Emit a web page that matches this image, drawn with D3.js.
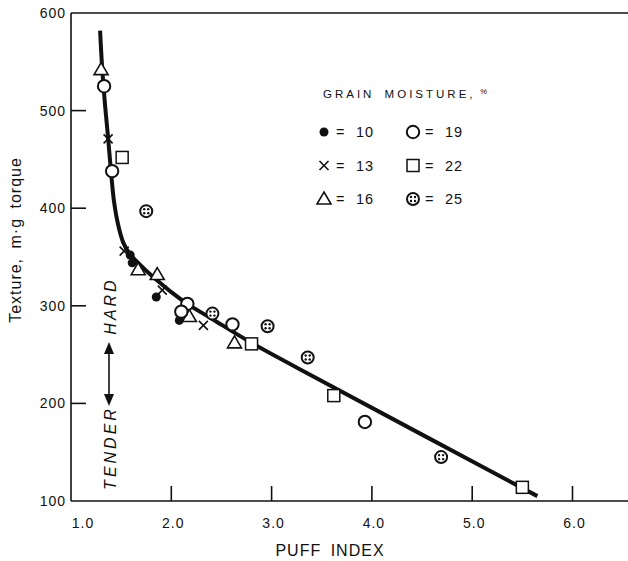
<!DOCTYPE html>
<html lang="en">

<head>
    <meta charset="UTF-8">
    <title>Texture vs Puff Index</title>
    <script src="https://d3js.org/d3.v7.min.js"></script>
    <style>
        body {
            margin: 0;
            background: #fff;
            font-family: "Liberation Sans", Arial, sans-serif;
        }

        text {
            fill: #111;
        }

        .tick_label {
            font-size: 14px;
            letter-spacing: 1px;
        }

        .axis_title {
            font-size: 16px;
            letter-spacing: 1px;
            word-spacing: 4px;
        }

        .legend_text {
            font-size: 14.5px;
            letter-spacing: 1px;
        }

        .zone {
            font-size: 16px;
            font-style: italic;
            letter-spacing: 3px;
        }
    </style>
</head>

<body>
    <svg id="chart" width="628" height="561"></svg>
    <script>
        // axis ticks
        let xTicks = [1.0, 2.0, 3.0, 4.0, 5.0, 6.0]
        let yTicks = [100, 200, 300, 400, 500, 600]

        // grain moisture levels (%) and the symbol used for each
        let moisture = [10, 13, 16, 19, 22, 25]
        let symbols = ["dot", "cross", "triangle", "circle", "square", "otimes"]

        // observations: [puff index, texture (m-g torque)]
        let m10 = [[1.59, 352], [1.61, 344], [1.85, 309], [2.08, 285]]
        let m13 = [[1.37, 471], [1.53, 356], [1.91, 316], [2.32, 280]]
        let m16 = [[1.30, 542], [1.67, 337], [1.86, 332], [2.18, 289], [2.63, 262]]
        let m19 = [[1.33, 525], [1.41, 438], [2.16, 302], [2.10, 294], [2.61, 281], [3.93, 181]]
        let m22 = [[1.51, 452], [2.80, 261], [3.62, 208], [5.50, 114]]
        let m25 = [[1.75, 397], [2.41, 292], [2.96, 279], [3.36, 247], [4.69, 145]]
        let seriesData = [m10, m13, m16, m19, m22, m25]

        // fitted curve drawn through the data
        let fitCurve = [[1.29, 582], [1.31, 545], [1.34, 505], [1.37, 472], [1.40, 436], [1.43, 406],
        [1.47, 383], [1.52, 365], [1.58, 354], [1.65, 346], [1.75, 336], [1.86, 326], [2.00, 314],
        [2.16, 302], [2.40, 287], [2.80, 262], [3.50, 223], [4.50, 168], [5.65, 105]]

        let width = 628
        let height = 561
        let svg = d3.select("#chart")

        let x = d3.scaleLinear().domain([1, 6]).range([71, 572.5])
        let y = d3.scaleLinear().domain([100, 600]).range([501, 13])

        let axes = svg.append("g").attr("stroke", "#111").attr("stroke-width", 1.6)
        // frame: left axis, bottom axis, top line
        axes.append("line").attr("x1", x(1)).attr("x2", x(1)).attr("y1", y(600)).attr("y2", y(100))
        axes.append("line").attr("x1", x(1)).attr("x2", width).attr("y1", y(100)).attr("y2", y(100))
        axes.append("line").attr("x1", x(1)).attr("x2", width).attr("y1", y(600)).attr("y2", y(600))

        // inward ticks
        axes.selectAll(".xt").data(xTicks.slice(1)).enter().append("line")
            .attr("x1", d => x(d)).attr("x2", d => x(d))
            .attr("y1", y(100)).attr("y2", y(100) - 15)
        axes.selectAll(".yt").data(yTicks.slice(1, -1)).enter().append("line")
            .attr("x1", x(1)).attr("x2", x(1) + 15)
            .attr("y1", d => y(d)).attr("y2", d => y(d))

        svg.selectAll(".xl").data(xTicks).enter().append("text")
            .attr("class", "tick_label")
            .attr("x", d => x(d) + (d == 1 ? 12 : 2))
            .attr("y", 528)
            .attr("text-anchor", "middle")
            .text(d => d3.format(".1f")(d))
        svg.selectAll(".yl").data(yTicks).enter().append("text")
            .attr("class", "tick_label")
            .attr("x", x(1) - 5)
            .attr("y", d => y(d) + 5)
            .attr("text-anchor", "end")
            .text(d => d)

        svg.append("text").attr("class", "axis_title")
            .attr("x", 330).attr("y", 556)
            .attr("text-anchor", "middle")
            .text("PUFF INDEX")
        svg.append("text").attr("class", "axis_title")
            .attr("transform", "translate(21,240) rotate(-90)")
            .attr("text-anchor", "middle")
            .text("Texture, m·g torque")

        // HARD / TENDER with double arrow
        svg.append("text").attr("class", "zone")
            .attr("transform", "translate(116,306) rotate(-90)")
            .attr("text-anchor", "middle").text("HARD")
        svg.append("text").attr("class", "zone")
            .attr("transform", "translate(116,448) rotate(-90)")
            .attr("text-anchor", "middle").text("TENDER")
        svg.append("line").attr("x1", 109).attr("x2", 109).attr("y1", 350).attr("y2", 398)
            .attr("stroke", "#111").attr("stroke-width", 1.6)
        svg.append("path").attr("d", "M109,342 L104,354 L114,354 Z").attr("fill", "#111")
        svg.append("path").attr("d", "M109,406 L104,394 L114,394 Z").attr("fill", "#111")

        // fitted curve
        let line = d3.line().x(d => x(d[0])).y(d => y(d[1])).curve(d3.curveCatmullRom.alpha(0.5))
        svg.append("path").attr("d", line(fitCurve))
            .attr("fill", "none").attr("stroke", "#111").attr("stroke-width", 4)

        function drawSymbol(g, type) {
            if (type == "dot") {
                g.append("circle").attr("r", 4.5).attr("fill", "#111")
            } else if (type == "cross") {
                g.append("path").attr("d", "M-4.5,-4.5L4.5,4.5M-4.5,4.5L4.5,-4.5")
                    .attr("stroke", "#111").attr("stroke-width", 1.6)
            } else if (type == "triangle") {
                g.append("path").attr("d", "M0,-7L7,5L-7,5Z")
                    .attr("fill", "#fff").attr("stroke", "#111").attr("stroke-width", 1.6)
            } else if (type == "circle") {
                g.append("circle").attr("r", 6.2)
                    .attr("fill", "#fff").attr("stroke", "#111").attr("stroke-width", 2)
            } else if (type == "square") {
                g.append("rect").attr("x", -6).attr("y", -6).attr("width", 12).attr("height", 12)
                    .attr("fill", "#fff").attr("stroke", "#111").attr("stroke-width", 1.5)
            } else if (type == "otimes") {
                g.append("circle").attr("r", 6)
                    .attr("fill", "#fff").attr("stroke", "#111").attr("stroke-width", 2)
                g.selectAll(".pip").data([[-2, -2], [2, -2], [-2, 2], [2, 2]]).enter()
                    .append("circle").attr("cx", d => d[0]).attr("cy", d => d[1])
                    .attr("r", 1.2).attr("fill", "#111")
            }
        }

        seriesData.forEach(function (pts, i) {
            svg.append("g").selectAll("g").data(pts).enter().append("g")
                .attr("transform", d => `translate(${x(d[0])},${y(d[1])})`)
                .each(function () { drawSymbol(d3.select(this), symbols[i]) })
        })

        // legend
        let legend = svg.append("g").attr("transform", "translate(324,132)")
        legend.append("text").attr("x", -1).attr("y", -34)
            .style("font-size", "11.5px").style("letter-spacing", "3px").style("word-spacing", "4px")
            .text("GRAIN MOISTURE,")
        legend.append("text").attr("x", 156).attr("y", -38)
            .style("font-size", "8px").style("font-style", "italic")
            .text("%")
        moisture.forEach(function (m, i) {
            let item = legend.append("g")
                .attr("transform", `translate(${Math.floor(i / 3) * 89},${(i % 3) * 33.5})`)
            drawSymbol(item, symbols[i])
            item.append("text").attr("class", "legend_text").attr("x", 12).attr("y", 5).text("=")
            item.append("text").attr("class", "legend_text").attr("x", 32).attr("y", 5).text(m)
        })
    </script>
</body>

</html>
